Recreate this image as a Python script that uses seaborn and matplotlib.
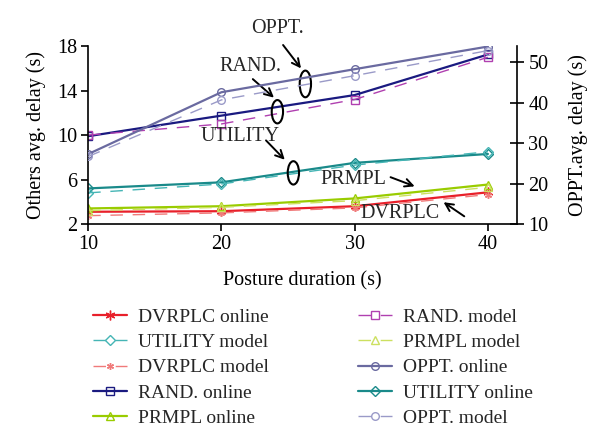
import matplotlib
matplotlib.use("Agg")
import matplotlib.pyplot as plt
from matplotlib.patches import Ellipse
import seaborn as sns

sns.set_theme(style="white")
plt.rcParams["font.family"] = ["Liberation Serif", "DejaVu Serif"]

# posture duration (s)
duration = [10, 20, 30, 40]

# left axis: others avg. delay (s)
dvrplc_online = [3.1, 3.15, 3.6, 4.85]
dvrplc_model = [2.75, 3.0, 3.45, 4.65]
utility_online = [5.2, 5.75, 7.5, 8.3]
utility_model = [4.8, 5.6, 7.3, 8.5]
rand_online = [9.9, 11.75, 13.6, 17.25]
rand_model = [10.0, 11.0, 13.2, 17.0]
prmpl_online = [3.4, 3.6, 4.3, 5.55]
prmpl_model = [3.2, 3.5, 4.1, 5.3]

# right axis: OPPT avg. delay (s)
oppt_online = [27.3, 42.6, 48.3, 53.9]
oppt_model = [26.7, 40.7, 46.7, 52.9]

FS = 14.5

fig = plt.figure(figsize=(6, 4.48), dpi=100)
ax = fig.add_axes([0.147, 0.5, 0.715, 0.397])
ax2 = ax.twinx()

dash = (0, (9, 7))
handles = {}


def draw(axis, y, name, color, marker, ms, online):
    sns.lineplot(x=duration, y=y, ax=axis, color=color, marker=marker,
                 markersize=ms, markeredgecolor=color, markerfacecolor="none",
                 markeredgewidth=1.0, linewidth=1.6 if online else 1.0,
                 linestyle="-" if online else dash, legend=False)
    line = axis.lines[-1]
    line.set_label(name)
    handles[name] = line


draw(ax, dvrplc_online, "DVRPLC online", "#e8202a", (6, 2, 0), 7, True)
draw(ax, dvrplc_model, "DVRPLC model", "#f07a7a", (6, 2, 0), 5, False)
draw(ax, utility_online, "UTILITY online", "#1a8a8a", "D", 5, True)
draw(ax, utility_model, "UTILITY model", "#45b5b5", "D", 5, False)
draw(ax, rand_online, "RAND. online", "#1a1a80", "s", 5.5, True)
draw(ax, rand_model, "RAND. model", "#b040b0", "s", 5.5, False)
draw(ax, prmpl_online, "PRMPL online", "#99cc00", "^", 6, True)
draw(ax, prmpl_model, "PRMPL model", "#cce060", "^", 6, False)
draw(ax2, oppt_online, "OPPT. online", "#6a6aa0", "o", 5.5, True)
draw(ax2, oppt_model, "OPPT. model", "#9a9ac8", "o", 5.5, False)

ax.set_xlim(10, 42.2)
ax.set_ylim(2, 18)
ax2.set_ylim(10, 54)
ax.set_xticks(duration)
ax.set_yticks([2, 6, 10, 14, 18])
ax2.set_yticks([10, 20, 30, 40, 50])

for s in ["top", "right"]:
    ax.spines[s].set_visible(False)
for s in ["top", "left", "bottom"]:
    ax2.spines[s].set_visible(False)
for sp in list(ax.spines.values()) + list(ax2.spines.values()):
    sp.set_color("black")
    sp.set_linewidth(1.2)

ax.tick_params(axis="both", direction="out", length=5, width=1.2,
               labelsize=FS, colors="black", bottom=True, left=True, pad=3)
ax2.tick_params(axis="y", direction="inout", length=10, width=1.2,
                labelsize=FS, colors="black", right=True, pad=3)

ax.set_xlabel("Posture duration (s)", fontsize=FS, color="black", labelpad=12)
ax.set_ylabel("Others avg. delay (s)", fontsize=FS, color="black", labelpad=8)
ax2.set_ylabel("OPPT.avg. delay (s)", fontsize=FS, color="black", labelpad=14)

# annotations
arrow = dict(arrowstyle="->", color="black", lw=1.4, mutation_scale=14)
ax.text(24.2, 19.6, "OPPT.", fontsize=FS, ha="center", va="center", clip_on=False)
ax.annotate("", xy=(26.1, 15.8), xytext=(24.5, 18.3), arrowprops=arrow,
            annotation_clip=False)
ax.text(22.2, 16.2, "RAND.", fontsize=FS, ha="center", va="center")
ax.annotate("", xy=(24.1, 13.2), xytext=(22.2, 15.2), arrowprops=arrow)
ax.text(21.4, 9.9, "UTILITY", fontsize=FS, ha="center", va="center")
ax.annotate("", xy=(24.9, 7.6), xytext=(23.2, 9.7), arrowprops=arrow)
ax.text(29.9, 6.0, "PRMPL", fontsize=FS, ha="center", va="center")
ax.annotate("", xy=(34.7, 5.3), xytext=(32.5, 6.3), arrowprops=arrow)
ax.text(33.4, 2.95, "DVRPLC", fontsize=FS, ha="center", va="center")
ax.annotate("", xy=(36.5, 4.1), xytext=(38.4, 2.55), arrowprops=arrow)

for cx, cy, h in [(26.3, 14.6, 2.4), (24.2, 12.1, 2.1), (25.4, 6.6, 2.1)]:
    ax.add_patch(Ellipse((cx, cy), 0.85, h, fill=False, edgecolor="black",
                         linewidth=1.5, zorder=5))

order = ["DVRPLC online", "UTILITY model", "DVRPLC model", "RAND. online",
         "PRMPL online", "RAND. model", "PRMPL model", "OPPT. online",
         "UTILITY online", "OPPT. model"]
fig.legend([handles[n] for n in order], order, ncol=2, loc="upper left",
           bbox_to_anchor=(0.142, 0.33), frameon=False, fontsize=14,
           handlelength=1.75, handletextpad=0.55, columnspacing=4.6,
           labelspacing=0.40, borderaxespad=0)

fig.savefig("out.png", dpi=100)
